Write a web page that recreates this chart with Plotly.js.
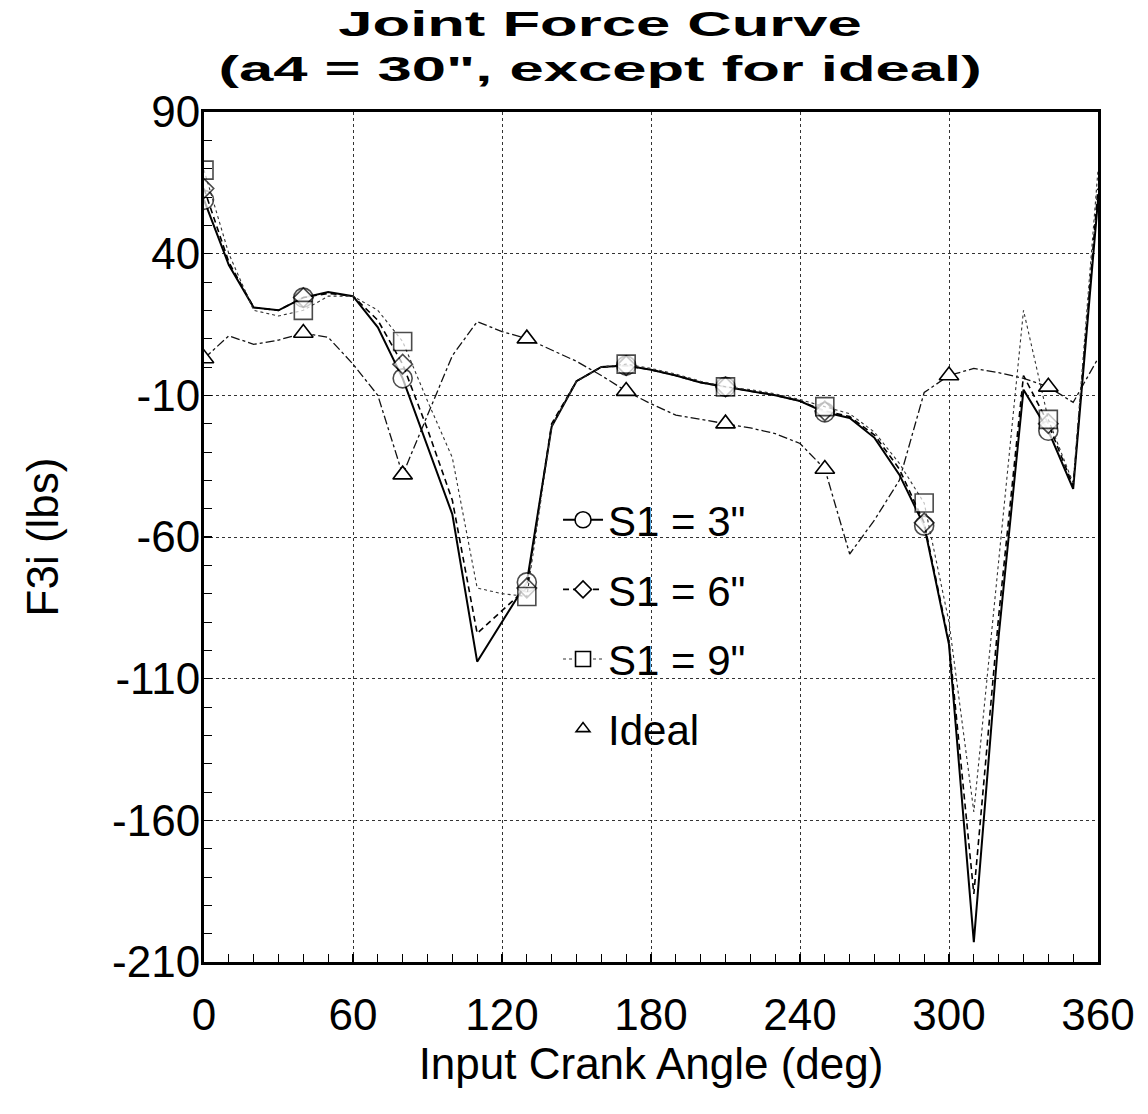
<!DOCTYPE html>
<html>
<head>
<meta charset="utf-8">
<script src="https://cdn.plot.ly/plotly-3.0.1.min.js"></script>
<style>
  html, body { margin: 0; padding: 0; background: #fff; }
  #chart { width: 1148px; height: 1114px; }
</style>
</head>
<body>
<div id="chart"></div>
<script>
// Input crank angle, degrees (one sample every 10 deg)
const angle = [0, 10, 20, 30, 40, 50, 60, 70, 80, 90, 100, 110, 120, 130, 140, 150, 160, 170, 180,
               190, 200, 210, 220, 230, 240, 250, 260, 270, 280, 290, 300, 310, 320, 330, 340, 350, 360];

// Joint force F3i (lbs) for each slider offset S1, a4 = 30"
const s1_3 = [59, 36, 21, 20, 24.5, 26.5, 25, 14, -4, -28, -52, -104, -90, -76, -21, -5, 0, 0.5, -1,
              -3, -5.5, -7, -8.5, -10, -12, -16, -18, -25, -38, -56, -98, -203, -95, -8, -22.5, -43, 59];
const s1_6 = [63, 37, 21, 20, 24.5, 26, 25, 16.5, 1, -22, -47, -94, -86, -78, -20, -5, 0, 0.5, -1,
              -3, -5.5, -7, -8.5, -10, -12, -15.5, -17.5, -24, -36, -55, -97, -186, -88, -3, -20, -42, 63];
const s1_9 = [69.5, 40, 20, 18, 20, 25, 25, 20, 9, -12, -32, -78, -80, -81, -21, -5, 0, 1, -0.5,
              -2.5, -5, -7, -8, -9.5, -11.5, -14, -16.5, -23, -34, -48, -90, -157, -68, 20, -18.5, -41, 69.5];
// Ideal linkage
const ideal = [3, 11, 8, 9.5, 12, 10.5, 1, -10, -38, -17, 4, 16, 12.5, 10, 6, 2, -3, -8.5, -13,
               -17, -18.5, -20, -21.5, -23.5, -27, -36, -66, -54, -40, -9, -3, -0.5, -2, -4, -7, -12.5, 3];

// Angles that carry a symbol
const markAnglesS1 = [0, 40, 80, 130, 170, 210, 250, 290, 340];
const markAnglesIdeal = [0, 40, 80, 130, 170, 210, 250, 300, 340];

const xTicks = [0, 60, 120, 180, 240, 300, 360];
const yTicks = [90, 40, -10, -60, -110, -160, -210];

const FONT = 'Liberation Sans, Arial, sans-serif';

function symbolSizes(marks, size) {
  return angle.map(a => (marks.includes(a) ? size : 0));
}

const markerLine = { color: '#000', width: 1.6 };

// line / symbol styles per series
const styles = {
  s3: { line: { color: '#000', width: 2 }, symbol: 'circle', size: 19 },
  s6: { line: { color: '#000', width: 1.6, dash: '6px,4px' }, symbol: 'diamond', size: 15 },
  s9: { line: { color: '#333', width: 1.1, dash: 'dot' }, symbol: 'square', size: 18 },
  id: { line: { color: '#111', width: 1.3, dash: 'dashdot' }, symbol: 'triangle-up', size: 17 }
};

function series(y, st) {
  return {
    x: angle, y: y, mode: 'lines+markers', showlegend: false,
    line: st.line,
    marker: { symbol: st.symbol, size: symbolSizes(markAnglesS1, st.size), color: '#fff', line: markerLine }
  };
}

// legend keys (no data of their own)
function key(name, st, withLine, group, size) {
  return {
    name: name, x: [null], y: [null], legendgroup: group,
    mode: withLine ? 'lines+markers' : 'markers',
    line: st.line,
    marker: { symbol: st.symbol, size: size, color: '#fff', line: markerLine }
  };
}

const traces = [
  { x: angle, y: ideal, mode: 'lines', showlegend: false, line: styles.id.line },
  series(s1_3, styles.s3),
  series(s1_6, styles.s6),
  series(s1_9, styles.s9),
  {
    x: markAnglesIdeal, y: markAnglesIdeal.map(a => ideal[angle.indexOf(a)]),
    mode: 'markers', showlegend: false,
    marker: { symbol: styles.id.symbol, size: styles.id.size, color: '#fff', line: markerLine }
  },
  key('S1 = 3"', styles.s3, true, 'g1', 16),
  key('S1 = 6"', styles.s6, true, 'g2', 13),
  key('S1 = 9"', styles.s9, true, 'g3', 15),
  key('Ideal', styles.id, false, 'g4', 12)
];

const axisCommon = {
  showline: true, linecolor: '#000', linewidth: 3, mirror: true,
  showgrid: true, gridcolor: '#333', gridwidth: 1, griddash: 'dot',
  zeroline: false,
  ticks: 'inside', ticklen: 8, tickcolor: '#000', tickwidth: 1.2,
  tickfont: { family: FONT, size: 44, color: '#000' }
};

const layout = {
  width: 1148, height: 1114,
  paper_bgcolor: '#fff', plot_bgcolor: '#fff',
  margin: { l: 204, r: 50, t: 112, b: 152 },
  title: {
    text: 'Joint Force Curve<br>(a4 = 30", except for ideal)',
    font: { family: FONT, size: 35, color: '#000', weight: 'bold' },
    x: 0.443, xanchor: 'center', xref: 'paper',
    y: 0.968, yanchor: 'top', yref: 'container'
  },
  xaxis: Object.assign({}, axisCommon, {
    range: [0, 360], tickvals: xTicks, ticktext: xTicks.map(String),
    minor: { dtick: 10, tick0: 0, ticks: 'inside', ticklen: 8, tickcolor: '#000', tickwidth: 1, showgrid: false },
    ticklabelstandoff: 12,
    title: { text: 'Input Crank Angle (deg)', font: { family: FONT, size: 44, color: '#000' }, standoff: 0 }
  }),
  yaxis: Object.assign({}, axisCommon, {
    range: [-210, 90], tickvals: yTicks, ticktext: yTicks.map(String),
    minor: { dtick: 10, tick0: 0, ticks: 'inside', ticklen: 8, tickcolor: '#000', tickwidth: 1, showgrid: false },
    ticklabelstandoff: -8,
    title: { text: 'F3i (lbs)', font: { family: FONT, size: 44, color: '#000' }, standoff: 40 }
  }),
  legend: {
    x: 0.396, y: 0.56, xanchor: 'left', yanchor: 'top',
    bgcolor: 'rgba(0,0,0,0)', borderwidth: 0,
    font: { family: FONT, size: 42, color: '#000' },
    itemsizing: 'trace', itemwidth: 40, traceorder: 'grouped',
    tracegroupgap: 12
  },
  showlegend: true
};

Plotly.newPlot('chart', traces, layout, { staticPlot: true }).then(gd => {
  // the heading is set in a wide, extended face: stretch it horizontally about its centre
  const g = gd.querySelector('.g-gtitle');
  const t = g && g.querySelector('text');
  if (t) {
    const bb = t.getBBox();
    const cx = bb.x + bb.width / 2;
    g.setAttribute('transform', `translate(${cx},0) scale(1.76,1) translate(${-cx},0)`);
  }
});
</script>
</body>
</html>
